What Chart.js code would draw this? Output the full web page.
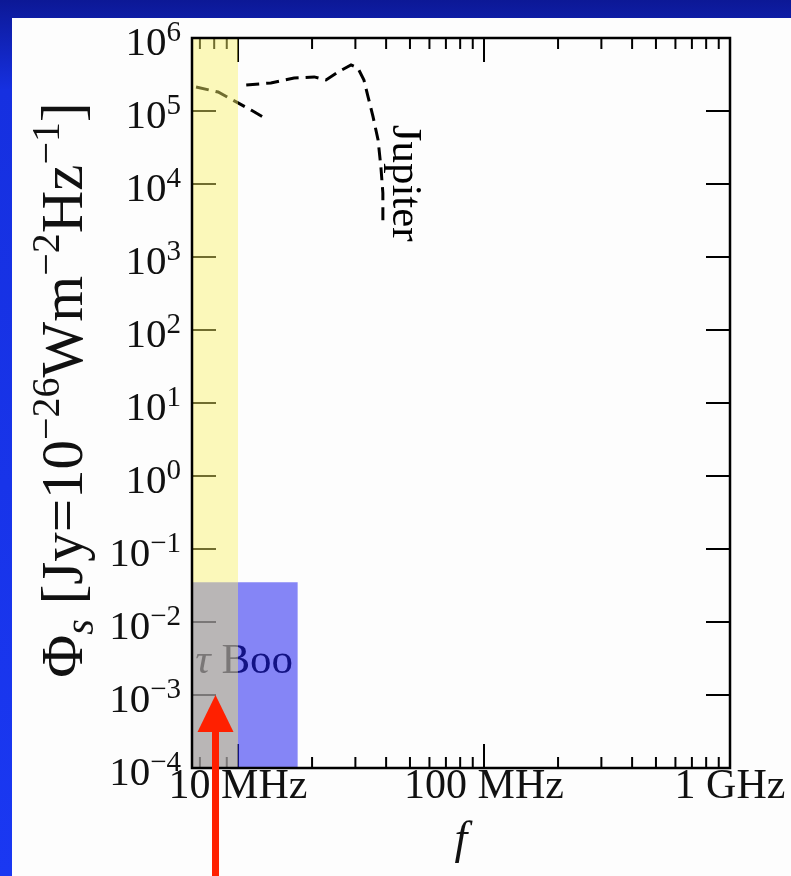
<!DOCTYPE html>
<html>
<head>
<meta charset="utf-8">
<script src="https://cdn.jsdelivr.net/npm/chart.js@4.4.0/dist/chart.umd.min.js"></script>
<style>
  html, body { margin: 0; padding: 0; }
  body {
    width: 791px; height: 876px; overflow: hidden; position: relative;
    background: linear-gradient(to bottom, #0c1896 0px, #1630e0 90px, #1a38f2 100%);
  }
  .panel { position: absolute; left: 12px; top: 18px; right: 0; bottom: 0; background: #fdfdfd; }
  .wrap { position: absolute; left: 0; top: 0; width: 791px; height: 876px; }
</style>
</head>
<body>
<div class="panel"></div>
<div class="wrap"><canvas id="chart"></canvas></div>
<script>
// axis ranges (MHz, Jy)
const xMin = 6.5
const xMax = 1000
const yMin = 1e-4
const yMax = 1e6
const xTickValues = [10, 100, 1000]
const xTickLabels = ['10 MHz', '100 MHz', '1 GHz']
const yTickExps = [-4, -3, -2, -1, 0, 1, 2, 3, 4, 5, 6]

// Jupiter emission
const jupiterHighF = [10.8, 13.6, 16.9, 20.4, 22.8, 25.5, 28.8, 30.7, 32.5, 33.8, 35.4, 37.1, 38.1, 38.8, 38.8]
const jupiterHighFlux = [2.27e5, 2.42e5, 2.83e5, 2.93e5, 2.66e5, 3.42e5, 4.27e5, 3.88e5, 2.66e5, 1.55e5, 8.3e4, 4.0e4, 1.7e4, 7.5e3, 2.75e3]
const jupiterLowF = [6.75, 8.3, 10.0, 11.3, 12.6]
const jupiterLowFlux = [2.13e5, 1.82e5, 1.29e5, 1.03e5, 8.3e4]

// ionospheric cutoff band and tau Boo box
const ionoCutoff = 10
const tauBooMaxF = 17.5
const tauBooFlux = 0.035

// label anchors (data coords)
const jupiterLabelPos = { x: 42.5, y: 6.5e4 }
const tauBooLabelPos = { x: 6.7, y: 2.0e-3 }
const arrowTip = { x: 8.1, y: 1e-3 }

const serif = '"Liberation Serif", "DejaVu Serif", serif'

function toPoints(xs, ys) {
  const pts = []
  for (let i = 0; i < xs.length; i++) {
    pts.push({ x: xs[i], y: ys[i] })
  }
  return pts
}

function drawRich(ctx, parts, x, y, align) {
  // parts: [text, size, shift, italic]
  let total = 0
  for (const p of parts) {
    ctx.font = (p[3] ? 'italic ' : '') + p[1] + 'px ' + serif
    total += ctx.measureText(p[0]).width
  }
  let cx = x
  if (align == 'right') cx = x - total
  if (align == 'center') cx = x - total / 2
  ctx.textAlign = 'left'
  ctx.textBaseline = 'alphabetic'
  for (const p of parts) {
    ctx.font = (p[3] ? 'italic ' : '') + p[1] + 'px ' + serif
    ctx.fillText(p[0], cx, y + p[2])
    cx += ctx.measureText(p[0]).width
  }
}

const decorPlugin = {
  id: 'decor',
  beforeDatasetsDraw(chart) {
    const ctx = chart.ctx
    const a = chart.chartArea
    const xs = chart.scales.x
    const ys = chart.scales.y
    ctx.save()
    ctx.strokeStyle = '#000'
    ctx.lineWidth = 2
    ctx.beginPath()
    // x ticks, inward on bottom and top
    for (let e = 0; e <= 3; e++) {
      for (let k = 1; k <= 9; k++) {
        const v = k * Math.pow(10, e)
        if (v < xMin || v > xMax) continue
        const px = xs.getPixelForValue(v)
        const len = k == 1 ? 24 : 11
        ctx.moveTo(px, a.bottom); ctx.lineTo(px, a.bottom - len)
        ctx.moveTo(px, a.top); ctx.lineTo(px, a.top + len)
      }
    }
    // y ticks, decades only
    for (const e of yTickExps) {
      const py = ys.getPixelForValue(Math.pow(10, e))
      ctx.moveTo(a.left, py); ctx.lineTo(a.left + 24, py)
      ctx.moveTo(a.right, py); ctx.lineTo(a.right - 24, py)
    }
    ctx.stroke()

    // labels under the translucent boxes
    ctx.fillStyle = '#000'
    const bx = xs.getPixelForValue(tauBooLabelPos.x)
    const by = ys.getPixelForValue(tauBooLabelPos.y)
    drawRich(ctx, [['τ', 43, 0, true], [' Boo', 43, 0, false]], bx, by, 'left')

    const jx = xs.getPixelForValue(jupiterLabelPos.x)
    const jy = ys.getPixelForValue(jupiterLabelPos.y)
    ctx.translate(jx, jy)
    ctx.rotate(Math.PI / 2)
    drawRich(ctx, [['Jupiter', 43, 0, false]], 0, 0, 'left')
    ctx.restore()
  },
  afterDatasetsDraw(chart) {
    const ctx = chart.ctx
    const a = chart.chartArea
    const xs = chart.scales.x
    const ys = chart.scales.y
    ctx.save()
    // frame
    ctx.strokeStyle = '#000'
    ctx.lineWidth = 2.5
    ctx.strokeRect(a.left, a.top, a.right - a.left, a.bottom - a.top)

    ctx.fillStyle = '#111'
    // y tick labels
    for (const e of yTickExps) {
      const py = ys.getPixelForValue(Math.pow(10, e))
      const ex = e < 0 ? '−' + Math.abs(e) : String(e)
      drawRich(ctx, [['10', 41, 0, false], [ex, 29, -14, false]], a.left - 11, py + 17, 'right')
    }
    // x tick labels
    ctx.font = '42px ' + serif
    ctx.textAlign = 'center'
    ctx.textBaseline = 'alphabetic'
    for (let i = 0; i < xTickValues.length; i++) {
      ctx.fillText(xTickLabels[i], xs.getPixelForValue(xTickValues[i]), 798)
    }
    // x title
    ctx.font = 'italic 46px ' + serif
    ctx.fillText('f', (a.left + a.right) / 2, 853)

    // y title
    ctx.translate(82, 390)
    ctx.rotate(-Math.PI / 2)
    drawRich(ctx, [
      ['Φ', 59, 0, false], ['s', 40, 11, true], [' [Jy=10', 59, 0, false],
      ['−26', 40, -23, false], ['Wm', 59, 0, false], ['−2', 40, -23, false],
      ['Hz', 59, 0, false], ['−1', 40, -23, false], [']', 59, 0, false]
    ], 0, 0, 'center')
    ctx.restore()

    // red arrow pointing at tau Boo
    ctx.save()
    const tx = xs.getPixelForValue(arrowTip.x)
    const ty = ys.getPixelForValue(arrowTip.y)
    ctx.fillStyle = '#ff2000'
    ctx.fillRect(tx - 3.5, ty + 30, 7, chart.height - ty)
    ctx.beginPath()
    ctx.moveTo(tx, ty)
    ctx.lineTo(tx + 18, ty + 37)
    ctx.lineTo(tx - 18, ty + 37)
    ctx.closePath()
    ctx.fill()
    ctx.restore()
  }
}

const ctx = document.getElementById('chart')

new Chart(ctx, {
  type: 'line',
  data: {
    datasets: [
      {
        label: 'ionosphere',
        data: [{ x: xMin, y: yMax }, { x: ionoCutoff, y: yMax }],
        backgroundColor: 'rgba(248,242,105,0.45)',
        borderWidth: 0,
        pointRadius: 0,
        fill: 'start'
      },
      {
        label: 'tau Boo',
        data: [{ x: xMin, y: tauBooFlux }, { x: tauBooMaxF, y: tauBooFlux }],
        backgroundColor: 'rgba(35,35,240,0.55)',
        borderWidth: 0,
        pointRadius: 0,
        fill: 'start'
      },
      {
        label: 'Jupiter',
        data: toPoints(jupiterHighF, jupiterHighFlux),
        borderColor: '#000',
        borderWidth: 3,
        borderDash: [13, 7],
        pointRadius: 0,
        fill: false,
        tension: 0
      },
      {
        label: 'Jupiter low',
        data: toPoints(jupiterLowF, jupiterLowFlux),
        borderColor: '#000',
        borderWidth: 3,
        borderDash: [13, 7],
        pointRadius: 0,
        fill: false,
        tension: 0
      }
    ]
  },
  options: {
    responsive: true,
    maintainAspectRatio: false,
    animation: false,
    layout: { padding: { left: 0, right: 61, top: 38, bottom: 0 } },
    plugins: { legend: { display: false }, tooltip: { enabled: false } },
    scales: {
      x: {
        type: 'logarithmic',
        min: xMin,
        max: xMax,
        grid: { display: false },
        border: { display: false },
        ticks: { display: false },
        afterFit: function(scale) { scale.height = 108 }
      },
      y: {
        type: 'logarithmic',
        min: yMin,
        max: yMax,
        grid: { display: false },
        border: { display: false },
        ticks: { display: false },
        afterFit: function(scale) { scale.width = 192 }
      }
    }
  },
  plugins: [decorPlugin]
})
</script>
</body>
</html>
